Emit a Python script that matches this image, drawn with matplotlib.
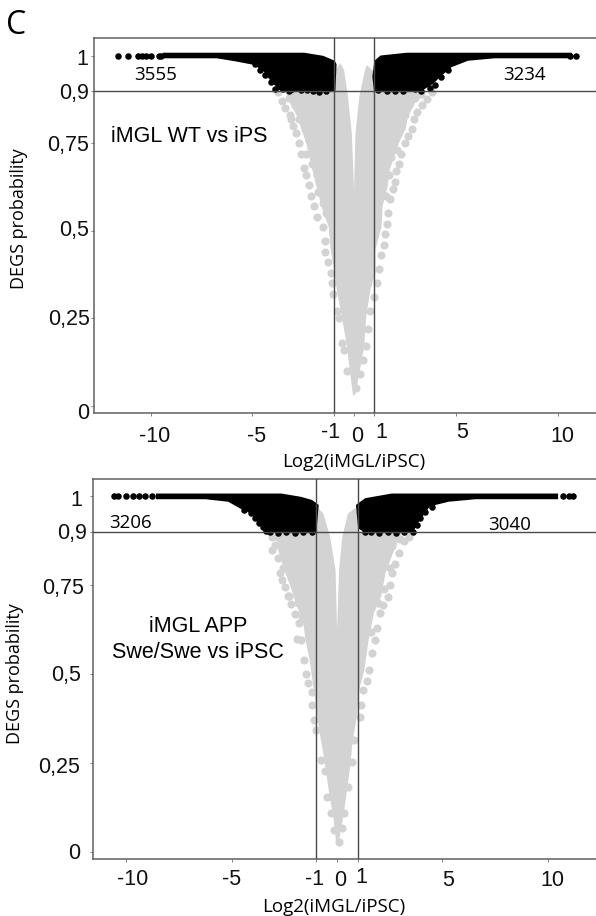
"""Two volcano plots, iMGL vs iPSC. Dense parts are outlines, sparse parts are read-off points."""
import matplotlib
matplotlib.use('Agg')
import matplotlib.pyplot as plt
from matplotlib.ticker import NullLocator
from matplotlib.transforms import ScaledTranslation

W, H = 596, 916
GREY = '#d3d3d3'
LINE = '#4a4a4a'
SANS = 'Liberation Sans'
HUMAN = 'Open Sans'

XTICKS = [-10, -5, -1, 0, 1, 5, 10]
YTICKS = [0, 0.25, 0.5, 0.75, 0.9, 1]
YTICK_LABELS = ['0', '0,25', '0,5', '0,75', '0,9', '1']

# ---- panel 1: iMGL WT vs iPS ----
WT_CORE_X = [0.05, 0.2, 0.5, 0.6, 0.8, 1.05, 1.05, 1.35, 1.4, 1.65, 1.75, 2.2, 2.55, 2.65, 3.0, 3.4, 1.0, 0.95, 0.63, 0.54, 0.26, 0.07, 0,
             -0.11, -0.3, -0.49, -0.67, -0.9, -1.0, -3.4, -3.15, -2.8, -2.6, -2.35, -2.05, -1.85, -1.6, -1.25, -1.15, -0.95, -0.85, -0.6, -0.35, -0.15, -0.05]
WT_CORE_Y = [0.03, 0.073, 0.169, 0.254, 0.33, 0.378, 0.445, 0.511, 0.569, 0.626, 0.673, 0.75, 0.792, 0.826, 0.864, 0.9, 0.9, 0.955, 0.973, 0.959, 0.883, 0.778, 0.616,
             0.778, 0.883, 0.959, 0.978, 0.96, 0.9, 0.9, 0.864, 0.826, 0.792, 0.75, 0.673, 0.626, 0.569, 0.511, 0.445, 0.378, 0.33, 0.254, 0.169, 0.073, 0.03]
WT_GREY_X = [-3.76, -3.55, -3.4, -3.15, -3.0, -2.85, -3.1, -2.7, -2.6, -2.45, -2.35, -2.2, -2.1, -1.95, -1.8, -1.55, -1.45, -1.45, -1.3, -1.15,
             -1.1, -1.05, -0.85, -0.75, -0.6, -0.5, -0.35, -3.2, -2.9, -2.6, -2.4, -2.7, -2.4, -2.2, -2.0, -2.2, -2.35, -2.0, -1.85, -2.05,
             -1.8, -1.7, -1.75, -1.55, -1.6, -1.4,
             3.81, 3.6, 3.35, 3.1, 2.95, 2.85, 2.65, 2.5, 2.3, 2.2, 2.05, 2.0, 1.9, 1.75, 1.65, 1.6, 1.5, 1.45, 1.3, 1.25,
             1.15, 1.0, 0.8, 0.7, 0.6, 0.45, 0.3, 0.1, 3.3, 3.0, 2.7, 2.5, 2.2, 2.0, 2.3, 1.95, 2.1, 1.8, 1.7, 1.85, 1.6, 1.55]
WT_GREY_Y = [0.895, 0.87, 0.85, 0.83, 0.8, 0.78, 0.82, 0.75, 0.72, 0.68, 0.66, 0.63, 0.6, 0.57, 0.54, 0.51, 0.47, 0.44, 0.41, 0.38,
             0.35, 0.32, 0.27, 0.25, 0.18, 0.16, 0.1, 0.88, 0.86, 0.87, 0.84, 0.82, 0.79, 0.82, 0.86, 0.76, 0.72, 0.74, 0.78, 0.69,
             0.66, 0.71, 0.61, 0.58, 0.64, 0.55,
             0.895, 0.875, 0.86, 0.84, 0.82, 0.79, 0.77, 0.75, 0.72, 0.69, 0.67, 0.64, 0.62, 0.59, 0.55, 0.52, 0.49, 0.46, 0.43, 0.39,
             0.35, 0.31, 0.27, 0.22, 0.17, 0.13, 0.09, 0.05, 0.89, 0.88, 0.86, 0.83, 0.88, 0.82, 0.8, 0.76, 0.73, 0.71, 0.66, 0.78, 0.74, 0.6]
WT_BLACK_LEFT_X = [-9.4, -2.45, -1.51, -0.95, -0.86, -0.92, -3.6, -3.9, -4.2, -4.45, -4.9, -5.8, -6.75, -8.4, -9.4]
WT_BLACK_LEFT_Y = [1.008, 1.008, 0.999, 0.985, 0.975, 0.898, 0.898, 0.915, 0.935, 0.955, 0.973, 0.983, 0.992, 0.992, 0.992]
WT_BLACK_RIGHT_X = [1.0, 1.3, 2.6, 10.7, 10.7, 6.9, 5.6, 4.8, 4.25, 3.9, 3.3, 0.98, 0.9]
WT_BLACK_RIGHT_Y = [0.985, 1.0, 1.008, 1.008, 0.992, 0.992, 0.985, 0.967, 0.94, 0.92, 0.898, 0.898, 0.94]
WT_BLACK_X = [-11.6, -11.1, -10.6, -10.4, -10.2, -10.0, -9.6, -9.5, -3.9, -3.7, -3.5, -4.1, -4.4, -4.0, -3.6, -3.3, -3.05, -2.6, -4.6, -3.2,
              -2.3, -2.0, -1.7, -1.4, -4.85,
              10.9, 10.6, 3.72, 3.3, 3.0, 3.5, 3.9, 4.25, 3.55, 4.6, 4.0, 2.8, 3.2, 2.4, 2.0, 1.6, 1.2]
WT_BLACK_Y = [1, 1, 1, 1, 1, 1, 1, 1, 0.905, 0.912, 0.903, 0.925, 0.945, 0.945, 0.93, 0.915, 0.905, 0.902, 0.96, 0.9,
              0.902, 0.9, 0.897, 0.9, 0.975,
              1, 1, 0.907, 0.9, 0.905, 0.925, 0.935, 0.94, 0.95, 0.96, 0.915, 0.91, 0.935, 0.9, 0.898, 0.9, 0.902]

# ---- panel 2: iMGL APP Swe/Swe vs iPSC ----
APP_CORE_X = [0.08, 0.2, 0.32, 0.5, 0.65, 0.75, 0.95, 1.05, 1.3, 1.5, 1.75, 2.1, 2.3, 2.65, 3.1, 1.0, 0.96, 0.89, 0.52, 0.25, 0.1, 0,
              -0.07, -0.33, -0.65, -0.96, -1.0, -2.8, -2.8, -2.45, -2.2, -1.95, -1.6, -1.5, -1.3, -1.15, -1.0, -0.85, -0.6, -0.35, -0.2, -0.1, -0.05]
APP_CORE_Y = [0.03, 0.067, 0.109, 0.184, 0.255, 0.316, 0.381, 0.456, 0.512, 0.596, 0.672, 0.718, 0.784, 0.84, 0.9, 0.9, 0.95, 0.968, 0.952, 0.887, 0.793, 0.629,
              0.793, 0.887, 0.952, 0.971, 0.9, 0.9, 0.849, 0.784, 0.746, 0.699, 0.643, 0.596, 0.54, 0.475, 0.414, 0.344, 0.259, 0.156, 0.109, 0.062, 0.03]
APP_GREY_X = [-3.09, -3.09, -2.95, -2.82, -2.73, -2.6, -2.46, -2.3, -2.19, -2.0, -1.82, -1.73, -1.55, -1.45, -1.37, -1.19, -1.19, -1.1, -1.01, -0.74,
              -0.56, -0.47, -0.29, -0.14, -2.8, -2.5, -2.2, -2.55, -2.2, -1.95, -2.35, -2.05, -1.85, -1.65, -1.9,
              3.41, 3.2, 2.96, 2.75, 2.6, 2.5, 2.42, 2.2, 2.06, 1.9, 1.79, 1.65, 1.52, 1.4, 1.25, 1.16, 1.07, 0.79, 0.7, 0.52,
              0.34, 0.25, 0.1, 3.0, 2.6, 2.3, 2.5, 2.1, 1.9, 2.25, 1.95, 1.75, 1.6]
APP_GREY_Y = [0.887, 0.849, 0.862, 0.826, 0.784, 0.765, 0.746, 0.72, 0.699, 0.67, 0.643, 0.596, 0.54, 0.5, 0.475, 0.45, 0.414, 0.372, 0.344, 0.259,
              0.227, 0.156, 0.109, 0.062, 0.885, 0.87, 0.89, 0.8, 0.83, 0.87, 0.72, 0.76, 0.7, 0.66, 0.6,
              0.887, 0.875, 0.84, 0.81, 0.784, 0.75, 0.718, 0.695, 0.672, 0.63, 0.596, 0.56, 0.512, 0.48, 0.456, 0.414, 0.381, 0.316, 0.255, 0.184,
              0.109, 0.067, 0.03, 0.88, 0.86, 0.885, 0.8, 0.82, 0.87, 0.74, 0.7, 0.76, 0.62]
APP_BLACK_LEFT_X = [-8.6, -2.64, -1.73, -1.19, -0.87, -0.98, -3.36, -3.72, -4.08, -4.6, -5.17, -6.25, -8.0, -8.6]
APP_BLACK_LEFT_Y = [1.008, 1.008, 0.999, 0.99, 0.976, 0.898, 0.898, 0.924, 0.952, 0.966, 0.985, 0.992, 0.992, 0.992]
APP_BLACK_RIGHT_X = [0.9, 1.34, 2.6, 10.5, 10.5, 6.58, 5.3, 4.41, 3.78, 3.6, 1.34, 1.0]
APP_BLACK_RIGHT_Y = [0.976, 0.995, 1.008, 1.008, 0.992, 0.992, 0.985, 0.972, 0.92, 0.898, 0.898, 0.91]
APP_BLACK_X = [-10.6, -10.4, -10.0, -9.7, -9.4, -9.1, -8.8, -3.36, -3.5, -3.72, -3.9, -4.08, -3.2, -2.8, -2.4, -2.0, -1.6, -1.2, -4.4,
               11.2, 11.0, 10.73, 3.6, 3.78, 3.5, 3.95, 4.2, 3.2, 2.8, 2.4, 2.0, 1.6, 1.34, 4.5]
APP_BLACK_Y = [1, 1, 1, 1, 1, 1, 1, 0.903, 0.915, 0.924, 0.94, 0.952, 0.9, 0.897, 0.9, 0.897, 0.9, 0.9, 0.962,
               1, 1, 1, 0.9, 0.92, 0.915, 0.94, 0.955, 0.9, 0.897, 0.9, 0.897, 0.9, 0.9, 0.97]

# pixel box (left, right, top, bottom), limits, tick label offsets in px
PANEL_WT = dict(box=(94, 596, 38, 413), xlim=(-12.78, 11.89), ylim=(-0.021, 1.05),
                xoff=[(4, 24), (4, 24), (-3.5, 20), (3, 24), (7, 20), (6, 20), (5, 24)],
                yoff=[(-5, 7.5), (-4, 1), (-5, 0), (-5, 2), (-5, 2.5), (-6, 4)])
PANEL_APP = dict(box=(93, 596, 479.3, 859.3), xlim=(-11.59, 12.3), ylim=(-0.0197, 1.048),
                 xoff=[(6, 20), (0, 20), (-1, 20), (3, 21), (3, 18), (6, 21), (5, 21)],
                 yoff=[(-12.5, 1), (-13, 4), (-12, 1), (-9, 3), (-6, 2), (-11, 4.5)])


def draw_panel(panel, core_x, core_y, grey_x, grey_y, left_x, left_y, right_x, right_y, black_x, black_y):
    l, r, t, b = panel['box']
    ax = fig.add_axes([l / W, 1 - b / H, (r - l) / W, (b - t) / H])
    ax.set_xlim(*panel['xlim'])
    ax.set_ylim(*panel['ylim'])

    ax.fill(core_x, core_y, color=GREY, lw=0, zorder=1)
    ax.scatter(grey_x, grey_y, s=34, color=GREY, lw=0, zorder=1)
    ax.fill(left_x, left_y, color='black', lw=0, zorder=2)
    ax.fill(right_x, right_y, color='black', lw=0, zorder=2)
    ax.scatter(black_x, black_y, s=22, color='black', lw=0, zorder=2)

    ax.axhline(0.9, color=LINE, lw=1, zorder=3)
    ax.axvline(-1, color=LINE, lw=1, zorder=3)
    ax.axvline(1, color=LINE, lw=1, zorder=3)

    ax.spines['right'].set_visible(False)
    for side in ['left', 'bottom', 'top']:
        ax.spines[side].set_color('#606060')
        ax.spines[side].set_linewidth(1.1)
    ax.set_xticks(XTICKS)
    ax.set_yticks(YTICKS)
    ax.set_xticklabels([str(v) for v in XTICKS], fontsize=15.5, family=SANS, va='center', ha='center', color='#111111')
    ax.set_yticklabels(YTICK_LABELS, fontsize=15.5, family=SANS, va='center', ha='right', color='#111111')
    ax.tick_params(length=2.5, width=0.7, color='#808080')
    ax.xaxis.set_minor_locator(NullLocator())

    # labels sit off their ticks in the original
    for lab, (dx, dy) in zip(ax.get_xticklabels(), panel['xoff']):
        lab.set_transform(ax.get_xaxis_transform() + ScaledTranslation(dx / 100, -dy / 100, fig.dpi_scale_trans))
    for lab, (dx, dy) in zip(ax.get_yticklabels(), panel['yoff']):
        lab.set_transform(ax.get_yaxis_transform() + ScaledTranslation(dx / 100, -dy / 100, fig.dpi_scale_trans))
    return ax


def label(x, y, text, **kw):
    fig.text(x / W, 1 - y / H, text, ha='center', va='center', **kw)


fig = plt.figure(figsize=(W / 100, H / 100), dpi=100)

draw_panel(PANEL_WT, WT_CORE_X, WT_CORE_Y, WT_GREY_X, WT_GREY_Y, WT_BLACK_LEFT_X, WT_BLACK_LEFT_Y,
           WT_BLACK_RIGHT_X, WT_BLACK_RIGHT_Y, WT_BLACK_X, WT_BLACK_Y)
draw_panel(PANEL_APP, APP_CORE_X, APP_CORE_Y, APP_GREY_X, APP_GREY_Y, APP_BLACK_LEFT_X, APP_BLACK_LEFT_Y,
           APP_BLACK_RIGHT_X, APP_BLACK_RIGHT_Y, APP_BLACK_X, APP_BLACK_Y)

label(16, 26, 'C', fontsize=23, family=HUMAN)
label(156, 75, '3555', fontsize=13.5, family=HUMAN)
label(525, 75, '3234', fontsize=13.5, family=HUMAN)
label(130, 523, '3206', fontsize=13.5, family=HUMAN)
label(510, 525, '3040', fontsize=13.5, family=HUMAN)
label(189, 137, 'iMGL WT vs iPS', fontsize=15.5, family=SANS)
label(198, 627, 'iMGL APP', fontsize=15.5, family=SANS)
label(198, 653, 'Swe/Swe vs iPSC', fontsize=15.5, family=SANS)
label(354, 462, 'Log2(iMGL/iPSC)', fontsize=13.5, family=HUMAN)
label(334, 907, 'Log2(iMGL/iPSC)', fontsize=13.5, family=HUMAN)
label(19, 219, 'DEGS probability', fontsize=13, family=HUMAN, rotation=90)
label(15, 674, 'DEGS probability', fontsize=13, family=HUMAN, rotation=90)

fig.savefig('out.png', dpi=100)
